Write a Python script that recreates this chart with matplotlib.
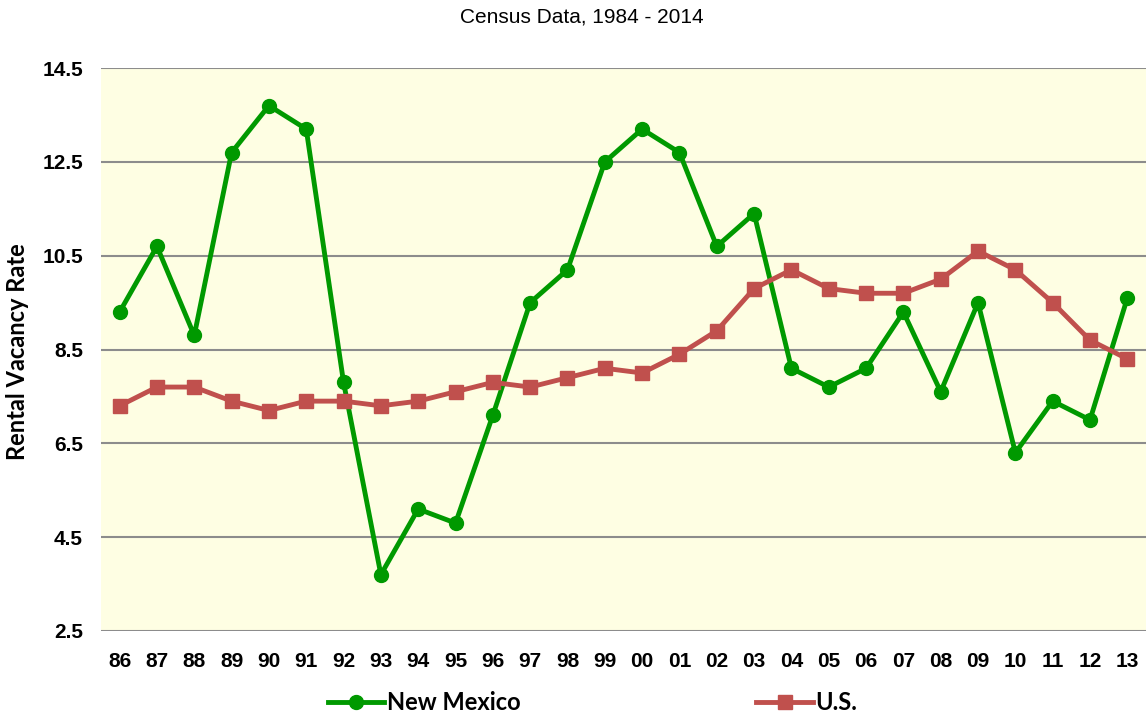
import matplotlib.pyplot as plt

# Years (2-digit labels)
years = ['86', '87', '88', '89', '90', '91', '92', '93', '94', '95', '96', '97', '98', '99',
         '00', '01', '02', '03', '04', '05', '06', '07', '08', '09', '10', '11', '12', '13']

# Rental vacancy rates
new_mexico = [9.3, 10.7, 8.8, 12.7, 13.7, 13.2, 7.8, 3.7, 5.1, 4.8, 7.1, 9.5, 10.2, 12.5,
              13.2, 12.7, 10.7, 11.4, 8.1, 7.7, 8.1, 9.3, 7.6, 9.5, 6.3, 7.4, 7.0, 9.6]
us = [7.3, 7.7, 7.7, 7.4, 7.2, 7.4, 7.4, 7.3, 7.4, 7.6, 7.8, 7.7, 7.9, 8.1,
      8.0, 8.4, 8.9, 9.8, 10.2, 9.8, 9.7, 9.7, 10.0, 10.6, 10.2, 9.5, 8.7, 8.3]

yticks = [2.5, 4.5, 6.5, 8.5, 10.5, 12.5, 14.5]

fig = plt.figure(figsize=(11.46, 7.17), dpi=100)
ax = fig.add_axes([0.0881, 0.12, 0.9119, 0.785])
ax.set_facecolor('#FEFEE3')

x = list(range(len(years)))
ax.plot(x, new_mexico, color='#009900', linewidth=3.5, marker='o', markersize=10,
        label='New Mexico', zorder=3)
ax.plot(x, us, color='#C0504D', linewidth=3.5, marker='s', markersize=9.5,
        label='U.S.', zorder=3)

ax.set_xlim(-0.5, len(years) - 0.5)
ax.set_ylim(2.5, 14.5)
ax.set_yticks(yticks)
ax.set_yticklabels([f'{v:.1f}' for v in yticks])
ax.set_xticks(x)
ax.set_xticklabels(years)
ax.grid(axis='y', color='#8C8C8C', linewidth=1.5, zorder=1)
ax.set_axisbelow(True)
for s in ax.spines.values():
    s.set_visible(False)
ax.tick_params(axis='y', length=0, pad=13)
ax.tick_params(axis='x', length=0, pad=15)
for lab in ax.get_xticklabels() + ax.get_yticklabels():
    lab.set_fontfamily('Liberation Sans')
    lab.set_fontweight('bold')
    lab.set_fontsize(15)

fig.text(18 / 1146, 0.51, 'Rental Vacancy Rate', rotation=90, ha='center', va='center',
         fontfamily='Lato', fontweight='bold', fontsize=17)
fig.text(0.508, 1 - 17 / 717, 'Census Data, 1984 - 2014', ha='center', va='center',
         fontfamily='Liberation Sans', fontsize=15)

fig.legend(loc='center', bbox_to_anchor=(0.517, 0.02), ncol=2, frameon=False,
           handlelength=2.4, handletextpad=0.1, columnspacing=10,
           prop={'family': 'Lato', 'weight': 'bold', 'size': 17})

fig.savefig('out.png', dpi=100)
